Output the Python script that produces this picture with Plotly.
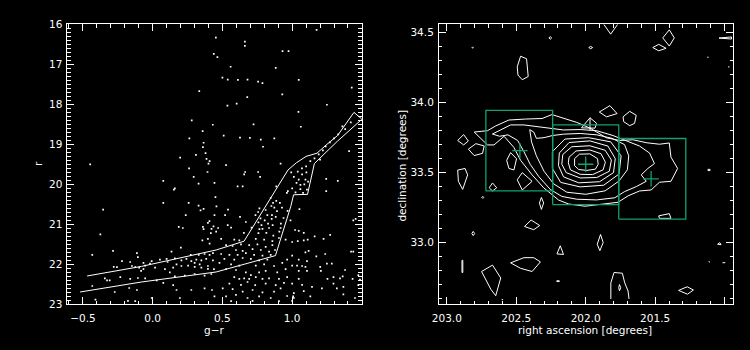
import plotly.graph_objects as go

# ---------------- Left panel: colour-magnitude diagram ----------------
STARS_BRIGHT = [
    (0.453, 16.33), (0.661, 16.43), (0.661, 16.54), (0.931, 16.67), (0.974, 16.67), (0.438, 16.74),
    (0.464, 16.82), (0.559, 17.06), (0.882, 17.09), (0.50, 17.33), (0.538, 17.38), (1.047, 17.39),
    (0.611, 17.39), (0.680, 17.38), (0.756, 17.43), (0.787, 17.47), (0.334, 17.67), (1.427, 17.58),
    (0.678, 17.82), (0.929, 17.75), (0.536, 18.03), (0.602, 17.98), (1.249, 18.01), (1.045, 18.19),
    (0.280, 18.40), (0.431, 18.51), (0.723, 18.50), (1.062, 18.56), (0.358, 18.67), (0.509, 18.78),
    (0.626, 18.83), (0.697, 18.84), (0.775, 18.88), (0.872, 18.85), (0.263, 18.85), (0.365, 18.96),
    (0.360, 19.07), (0.791, 19.06), (1.408, 19.17), (0.310, 19.26), (0.379, 19.22), (0.386, 19.36),
    (0.408, 19.42), (0.400, 19.48), (-0.448, 19.50), (0.197, 19.33), (0.526, 19.52), (0.917, 19.48),
    (0.261, 19.60), (1.175, 16.14),
    (1.42, 18.45), (1.38, 18.62), (1.33, 18.75), (1.30, 18.85), (1.27, 18.95), (1.24, 19.05),
    (1.22, 19.15), (1.19, 19.25), (1.16, 19.35), (1.13, 19.42), (1.20, 19.38), (1.10, 19.55),
    (1.07, 19.60), (1.36, 18.55),
]

STARS_MID = [
    (-0.355, 20.63), (-0.375, 21.25),
    (0.076, 19.91), (0.152, 20.13), (0.159, 20.10), (0.294, 19.81), (0.393, 19.69), (0.329, 19.98),
    (0.443, 19.96), (0.450, 20.32), (0.076, 20.46), (0.258, 20.46), (0.329, 20.53), (0.365, 20.61),
    (0.343, 20.65), (0.237, 20.77), (0.443, 20.77), (0.407, 20.92), (0.396, 20.96), (0.436, 21.05),
    (0.187, 21.06), (0.216, 21.09), (0.360, 21.06), (0.365, 21.12), (0.422, 21.11), (0.417, 21.22),
    (0.663, 19.69), (0.656, 19.75), (0.756, 19.69), (0.770, 19.81), (0.609, 20.05), (0.645, 20.05),
    (0.886, 20.05), (0.969, 20.17), (0.962, 20.21), (0.846, 20.34), (0.886, 20.41), (0.912, 20.46),
    (0.863, 20.46), (0.457, 20.55), (0.851, 20.54), (0.765, 20.60), (0.540, 20.63), (0.810, 20.64),
    (0.872, 20.58), (0.891, 20.67), (0.927, 20.58), (0.967, 20.66), (0.756, 20.69), (0.737, 20.77),
    (0.822, 20.77), (0.855, 20.77), (0.882, 20.81), (0.853, 20.86), (0.938, 20.84), (0.519, 20.77),
    (0.626, 20.81), (0.773, 20.85), (0.803, 20.90), (0.668, 20.94), (0.758, 20.95), (0.780, 21.02),
    (0.827, 20.98), (0.860, 21.02), (0.919, 20.98), (0.709, 21.08), (0.765, 21.12), (0.787, 21.11),
    (0.834, 21.09), (0.917, 21.09), (0.538, 21.02), (0.469, 21.09), (0.654, 21.21), (0.758, 21.22),
    (0.815, 21.21), (0.865, 21.28), (0.908, 21.18), (0.455, 21.18), (0.562, 21.08),
    (0.993, 19.70), (1.040, 19.68), (1.071, 19.75), (1.102, 19.70), (1.012, 19.81), (1.047, 19.88),
    (1.095, 19.88), (1.031, 19.96), (1.059, 20.01), (1.087, 20.00), (1.114, 19.93), (1.000, 20.10),
    (1.059, 20.12), (1.106, 20.13), (1.024, 20.20), (1.078, 20.21), (1.244, 19.86), (1.327, 19.91),
    (1.244, 20.17), (1.052, 20.62), (0.988, 20.90), (1.021, 21.14), (1.047, 21.16), (1.083, 21.21),
    (1.161, 21.30), (1.272, 21.26), (1.455, 20.86), (1.438, 20.90),
]

STARS_FAINT = [
    (-0.433, 21.76), (-0.284, 21.66), (-0.113, 21.72), (-0.106, 21.82), (-0.220, 21.92), (-0.161, 21.94),
    (-0.279, 22.06), (-0.256, 22.07), (-0.149, 22.04), (-0.125, 22.07), (-0.097, 22.08), (-0.083, 22.16),
    (-0.343, 22.35), (-0.327, 22.40), (-0.308, 22.40), (-0.232, 22.32), (-0.161, 22.36), (-0.106, 22.34),
    (-0.433, 22.54), (-0.168, 22.59), (-0.272, 22.69), (-0.113, 22.64), (-0.410, 22.88), (-0.125, 22.92),
    (-0.177, 22.91),
    (0.356, 21.40), (0.396, 21.36), (0.408, 21.48), (0.202, 21.58), (0.135, 21.68), (0.273, 21.76),
    (0.330, 21.76), (0.372, 21.74), (0.408, 21.76), (0.432, 21.72), (-0.007, 21.92), (0.052, 21.88),
    (0.100, 21.86), (0.159, 21.85), (0.206, 21.90), (0.242, 21.86), (0.277, 21.92), (0.313, 21.88),
    (0.349, 21.90), (0.384, 21.86), (0.432, 21.90), (-0.054, 22.03), (0.017, 22.08), (0.088, 22.12),
    (0.147, 22.08), (0.171, 22.00), (0.206, 22.04), (0.254, 22.03), (0.301, 22.06), (0.349, 22.08),
    (0.396, 22.04), (0.439, 22.12), (-0.066, 22.12), (-0.054, 22.35), (0.029, 22.40), (0.159, 22.30),
    (0.230, 22.28), (0.301, 22.24), (0.420, 22.24), (0.372, 22.28), (0.076, 22.46), (0.147, 22.52),
    (0.171, 22.64), (0.277, 22.64), (0.372, 22.60), (0.425, 22.64), (-0.007, 22.84), (0.195, 22.84),
    (0.443, 22.80), (-0.066, 21.96), (-0.019, 21.98), (0.107, 21.94), (0.123, 22.20), (0.301, 21.96),
    (0.337, 22.00), (0.396, 22.11),
    (0.491, 21.36), (0.585, 21.38), (0.621, 21.40), (0.739, 21.36), (0.799, 21.38), (0.858, 21.42),
    (0.905, 21.34), (0.953, 21.38), (0.526, 21.52), (0.573, 21.54), (0.633, 21.50), (0.692, 21.52),
    (0.751, 21.50), (0.810, 21.56), (0.858, 21.52), (0.597, 21.64), (0.645, 21.66), (0.716, 21.62),
    (0.775, 21.64), (0.834, 21.68), (0.877, 21.64), (0.491, 21.74), (0.550, 21.76), (0.609, 21.76),
    (0.668, 21.72), (0.727, 21.76), (0.787, 21.78), (0.846, 21.76), (0.514, 21.86), (0.585, 21.88),
    (0.645, 21.84), (0.704, 21.86), (0.763, 21.90), (0.822, 21.88), (0.479, 21.96), (0.562, 22.00),
    (0.621, 22.03), (0.739, 22.03), (0.799, 22.00), (0.870, 22.04), (0.929, 21.96), (0.964, 21.88),
    (0.526, 22.12), (0.597, 22.14), (0.668, 22.20), (0.704, 22.27), (0.763, 22.20), (0.810, 22.16),
    (0.893, 22.20), (0.953, 22.12), (0.585, 22.32), (0.621, 22.36), (0.656, 22.35), (0.692, 22.36),
    (0.739, 22.32), (0.787, 22.36), (0.834, 22.35), (0.905, 22.36), (0.964, 22.32), (0.550, 22.48),
    (0.633, 22.51), (0.680, 22.44), (0.735, 22.52), (0.810, 22.48), (0.882, 22.52), (0.941, 22.46),
    (0.502, 22.60), (0.573, 22.62), (0.645, 22.68), (0.716, 22.64), (0.787, 22.70), (0.870, 22.68),
    (0.917, 22.60), (0.526, 22.80), (0.597, 22.76), (0.680, 22.84), (0.763, 22.80), (0.846, 22.84),
    (0.964, 22.79), (0.562, 22.92), (0.716, 22.91), (0.905, 22.92),
    (1.000, 21.44), (1.040, 21.42), (1.083, 21.40), (1.111, 21.38), (1.225, 21.36), (1.422, 21.68),
    (1.438, 21.68), (1.095, 21.70), (1.118, 21.66), (1.173, 21.80), (1.237, 21.74), (1.000, 21.78),
    (1.047, 21.88), (1.106, 21.92), (1.000, 22.03), (1.035, 22.03), (1.071, 22.04), (1.095, 22.06),
    (1.249, 21.98), (1.284, 21.98), (1.201, 22.06), (1.379, 22.14), (1.047, 22.16), (1.106, 22.16),
    (1.206, 22.16), (1.047, 22.36), (1.253, 22.36), (1.296, 22.32), (1.343, 22.35), (1.362, 22.30),
    (1.433, 22.36), (1.474, 22.27), (1.486, 22.38), (1.000, 22.48), (1.071, 22.51), (1.142, 22.56),
    (1.213, 22.60), (1.296, 22.48), (1.367, 22.56), (1.474, 22.52), (1.012, 22.72), (1.083, 22.67),
    (1.320, 22.60), (1.450, 22.84), (1.007, 22.80), (1.130, 22.80), (1.367, 22.75), (1.000, 22.91),
    (1.012, 22.84),
]

SEL_UPPER_GR = [-0.47, -0.08, 0.455, 0.655, 0.97, 1.03, 1.10, 1.178, 1.249, 1.325, 1.443, 1.50]
SEL_UPPER_R = [22.29, 22.05, 21.64, 21.42, 19.64, 19.46, 19.30, 19.22, 19.00, 18.78, 18.20, 18.37]
SEL_LOWER_GR = [-0.52, -0.08, 0.455, 0.69, 0.88, 0.99, 1.01, 1.11, 1.159, 1.265, 1.325, 1.50]
SEL_LOWER_R = [22.69, 22.44, 22.19, 21.96, 21.78, 20.55, 20.26, 20.25, 19.48, 19.12, 18.92, 18.37]

CMD_X_TICKS = [-0.5, 0.0, 0.5, 1.0, 1.5]
CMD_Y_TICKS = [16, 17, 18, 19, 20, 21, 22, 23]

# ---------------- Right panel: density contours ----------------
CONTOUR_RA = [
    [202.08, 202.045, 201.97, 201.915, 201.91, 201.93, 201.99, 202.05, 202.08],
    [202.12, 202.07, 201.97, 201.89, 201.858, 201.875, 201.95, 202.04, 202.11, 202.125],
    [202.165, 202.10, 201.97, 201.86, 201.815, 201.83, 201.92, 202.04, 202.14, 202.172],
    [202.19, 202.12, 201.97, 201.84, 201.787, 201.80, 201.90, 202.05, 202.16, 202.196],
    [202.24, 202.15, 201.98, 201.82, 201.745, 201.76, 201.87, 202.04, 202.18, 202.24],
    [202.403, 202.374, 202.355, 202.30, 202.24, 202.16, 202.04, 201.92, 201.81, 201.72, 201.69,
     201.70, 201.76, 201.86, 202.0, 202.136, 202.231, 202.30, 202.355, 202.39],
    [202.672, 202.600, 202.541, 202.445, 202.350, 202.255, 202.160, 202.041, 201.922, 201.803,
     201.719, 201.612, 201.540, 201.505, 201.552, 201.600, 201.564, 201.636, 201.719, 201.791,
     201.922, 202.064, 202.172, 202.255, 202.338, 202.40, 202.445, 202.49, 202.56, 202.62],
    [202.803, 202.707, 202.648, 202.553, 202.434, 202.314, 202.243, 202.160, 202.064, 201.969,
     201.850, 201.755, 201.660, 201.564, 201.469, 201.398, 201.386, 201.338, 201.386, 201.469,
     201.529, 201.612, 201.695, 201.767, 201.874, 202.005, 202.124, 202.195, 202.303, 202.386,
     202.469, 202.517, 202.588, 202.660, 202.707, 202.767],
    [202.265, 202.255, 202.245, 202.255],
    [202.818, 202.814, 202.810, 202.814],
    [201.978, 201.964, 201.950, 201.964],
    [201.445, 201.398, 201.362, 201.398],
    [201.517, 201.474, 201.421, 201.474],
    [201.04, 200.95, 200.95],
    [202.493, 202.469, 202.426, 202.414, 202.457, 202.488],
    [201.902, 201.826, 201.774, 201.850],
    [201.731, 201.683, 201.636, 201.648, 201.683, 201.726],
    [202.03, 201.969, 201.922, 201.933],
    [202.922, 202.879, 202.845, 202.879],
    [202.845, 202.791, 202.731, 202.743, 202.803],
    [202.922, 202.869, 202.850, 202.886, 202.917],
    [202.569, 202.541, 202.498, 202.517, 202.553],
    [202.493, 202.457, 202.386, 202.457],
    [202.695, 202.671, 202.641, 202.671],
    [202.748, 202.741, 202.734, 202.741],
    [202.333, 202.319, 202.303, 202.319],
    [201.474, 201.398, 201.386, 201.469],
    [202.441, 202.393, 202.331, 202.374],
    [202.82, 202.81, 202.80, 202.81],
    [201.917, 201.893, 201.874, 201.898],
    [202.207, 202.183, 202.160],
    [201.122, 201.112, 201.102, 201.112],
    [201.05, 201.035, 201.025],
    [202.891, 202.885, 202.885, 202.891],
    [202.541, 202.445, 202.374, 202.326, 202.386, 202.469],
    [202.750, 202.671, 202.612, 202.648, 202.683],
    [202.21, 202.199, 202.188, 202.199],
    [201.762, 201.757, 201.748, 201.757],
    [201.331, 201.269, 201.224, 201.267],
]
CONTOUR_DEC = [
    [33.60, 33.632, 33.634, 33.60, 33.56, 33.525, 33.516, 33.522, 33.55],
    [33.61, 33.655, 33.662, 33.635, 33.575, 33.52, 33.486, 33.488, 33.52, 33.57],
    [33.63, 33.685, 33.692, 33.66, 33.59, 33.51, 33.465, 33.462, 33.50, 33.56],
    [33.64, 33.715, 33.727, 33.69, 33.60, 33.50, 33.435, 33.427, 33.47, 33.55],
    [33.65, 33.74, 33.75, 33.72, 33.62, 33.49, 33.41, 33.398, 33.43, 33.53],
    [33.807, 33.79, 33.745, 33.75, 33.765, 33.775, 33.78, 33.77, 33.745, 33.70, 33.62,
     33.52, 33.44, 33.37, 33.345, 33.36, 33.42, 33.51, 33.62, 33.72],
    [33.776, 33.813, 33.841, 33.841, 33.830, 33.815, 33.805, 33.808, 33.800, 33.765,
     33.730, 33.690, 33.640, 33.565, 33.530, 33.484, 33.438, 33.400, 33.365, 33.320,
     33.305, 33.310, 33.330, 33.380, 33.472, 33.560, 33.650, 33.730, 33.770, 33.760],
    [33.790, 33.800, 33.834, 33.876, 33.883, 33.887, 33.915, 33.887, 33.859, 33.818,
     33.749, 33.730, 33.735, 33.714, 33.703, 33.712, 33.611, 33.530, 33.438, 33.431,
     33.376, 33.369, 33.334, 33.288, 33.276, 33.260, 33.276, 33.304, 33.392, 33.484,
     33.588, 33.680, 33.760, 33.698, 33.698, 33.760],
    [34.463, 34.472, 34.463, 34.454],
    [34.394, 34.399, 34.394, 34.389],
    [34.394, 34.402, 34.394, 34.386],
    [34.463, 34.521, 34.463, 34.405],
    [34.394, 34.417, 34.389, 34.371],
    [34.462, 34.470, 34.455],
    [34.256, 34.332, 34.314, 34.187, 34.164, 34.198],
    [33.933, 33.979, 33.922, 33.899],
    [33.899, 33.938, 33.910, 33.852, 33.836, 33.864],
    [33.820, 33.892, 33.853, 33.818],
    [33.730, 33.772, 33.726, 33.698],
    [33.668, 33.707, 33.691, 33.638, 33.622],
    [33.518, 33.530, 33.484, 33.380, 33.438],
    [33.588, 33.643, 33.599, 33.519, 33.530],
    [33.449, 33.500, 33.438, 33.376],
    [33.392, 33.426, 33.392, 33.369],
    [33.323, 33.330, 33.323, 33.316],
    [33.283, 33.323, 33.283, 33.237],
    [33.191, 33.207, 33.173, 33.173],
    [33.115, 33.161, 33.122, 33.092],
    [33.065, 33.080, 33.065, 33.050],
    [32.988, 33.058, 33.000, 32.942],
    [32.919, 32.977, 32.915],
    [33.519, 33.526, 33.519, 33.512],
    [32.988, 33.000, 32.985],
    [32.873, 32.873, 32.786, 32.786],
    [32.855, 32.892, 32.892, 32.862, 32.793, 32.816],
    [32.793, 32.839, 32.747, 32.620, 32.666],
    [32.724, 32.729, 32.724, 32.720],
    [32.677, 32.700, 32.677, 32.655],
    [32.658, 32.684, 32.661, 32.631],
]
OPEN_RA = [
    [201.87, 201.82, 201.77],
    [201.969, 201.969],
    [201.819, 201.819, 201.796, 201.736, 201.719, 201.695, 201.688],
    [201.115, 201.105], [201.015, 200.995], [202.605, 202.595],
    [201.125, 201.115], [200.975, 200.965],
]
OPEN_DEC = [
    [34.56, 34.49, 34.56],
    [33.892, 33.80],
    [32.597, 32.712, 32.786, 32.781, 32.712, 32.654, 32.597],
    [32.864, 32.860], [32.856, 32.856], [32.592, 32.592],
    [34.325, 34.325], [34.256, 34.256],
]

FIELD_RA_MIN = [202.719, 202.238, 201.762]
FIELD_RA_MAX = [202.238, 201.762, 201.279]
FIELD_DEC_MIN = [33.369, 33.272, 33.168]
FIELD_DEC_MAX = [33.945, 33.841, 33.744]
CENTER_RA = [202.474, 202.0, 201.529]
CENTER_DEC = [33.657, 33.560, 33.456]

RA_TICKS = [203.0, 202.5, 202.0, 201.5, 201.0]
RA_TICK_TEXT = ["203.0", "202.5", "202.0", "201.5", ""]
DEC_TICKS = [33.0, 33.5, 34.0, 34.5]

GREEN = "#12a070"
FONT = "DejaVu Sans"

fig = go.Figure()

# CMD stars
allstars = STARS_BRIGHT + STARS_MID + STARS_FAINT
fig.add_trace(go.Scatter(
    x=[s[0] for s in allstars], y=[s[1] for s in allstars], mode="markers",
    marker=dict(color="white", size=1.7, symbol="square", line=dict(width=0)),
    xaxis="x", yaxis="y", hoverinfo="skip"))
for gx, ry in ((SEL_UPPER_GR, SEL_UPPER_R), (SEL_LOWER_GR, SEL_LOWER_R)):
    fig.add_trace(go.Scatter(x=gx, y=ry, mode="lines", line=dict(color="white", width=1),
                             xaxis="x", yaxis="y", hoverinfo="skip"))

# contours
cx, cy = [], []
for ra, de in zip(CONTOUR_RA, CONTOUR_DEC):
    cx += ra + [ra[0], None]
    cy += de + [de[0], None]
for ra, de in zip(OPEN_RA, OPEN_DEC):
    cx += ra + [None]
    cy += de + [None]
fig.add_trace(go.Scatter(x=cx, y=cy, mode="lines", line=dict(color="white", width=1),
                         xaxis="x2", yaxis="y2", hoverinfo="skip", connectgaps=False))

# field boxes
bx, by = [], []
for a0, a1, d0, d1 in zip(FIELD_RA_MIN, FIELD_RA_MAX, FIELD_DEC_MIN, FIELD_DEC_MAX):
    bx += [a0, a1, a1, a0, a0, None]
    by += [d0, d0, d1, d1, d0, None]
fig.add_trace(go.Scatter(x=bx, y=by, mode="lines", line=dict(color=GREEN, width=1.3),
                         xaxis="x2", yaxis="y2", hoverinfo="skip"))
fig.add_trace(go.Scatter(x=CENTER_RA, y=CENTER_DEC, mode="markers",
                         marker=dict(symbol="cross-thin", size=11, line=dict(color=GREEN, width=1.3)),
                         xaxis="x2", yaxis="y2", hoverinfo="skip"))

def axis(domain, rng, tickvals, ticktext, minor, anchor, standoff):
    return dict(domain=domain, range=rng, tickmode="array", tickvals=tickvals, ticktext=ticktext,
                showgrid=False, zeroline=False, showline=True, linecolor="white", linewidth=1,
                mirror="allticks", ticks="inside", ticklen=7, tickcolor="white", tickwidth=1,
                minor=dict(dtick=minor, tick0=0, ticks="inside", ticklen=3.5, tickcolor="white",
                           tickwidth=1, showgrid=False),
                ticklabelstandoff=standoff,
                tickfont=dict(family=FONT, size=10.5, color="white"), anchor=anchor)

ydom = [1 - 309 / 350, 1 - 19 / 350]
fig.update_layout(
    width=750, height=350, margin=dict(l=0, r=0, t=0, b=0),
    paper_bgcolor="black", plot_bgcolor="black", showlegend=False,
    xaxis=axis([61 / 750, 358 / 750], [-0.611, 1.498], CMD_X_TICKS,
               ["\u22120.5", "0.0", "0.5", "1.0", "1.5"], 0.1, "y", 4),
    yaxis=axis(ydom, [23.0, 16.0], CMD_Y_TICKS, [str(v) for v in CMD_Y_TICKS], 0.1, "x", 2),
    xaxis2=axis([436 / 750, 733 / 750], [203.057, 200.938], RA_TICKS, RA_TICK_TEXT, 0.1, "y2", 4),
    yaxis2=axis(ydom, [32.558, 34.56], DEC_TICKS, [f"{v:.1f}" for v in DEC_TICKS], 0.1, "x2", 2),
)

def label(text, x, y, angle=0):
    fig.add_annotation(text=text, x=x / 750, y=1 - y / 350, xref="paper", yref="paper",
                       showarrow=False, textangle=angle, xanchor="center", yanchor="middle",
                       font=dict(family=FONT, size=10.5, color="white"))

label("g\u2212r", 209, 335)
label("r", 32, 163, -90)
label("right ascension [degrees]", 583, 335)
label("declination [degrees]", 399, 165, -90)

fig.write_html("out.html")
